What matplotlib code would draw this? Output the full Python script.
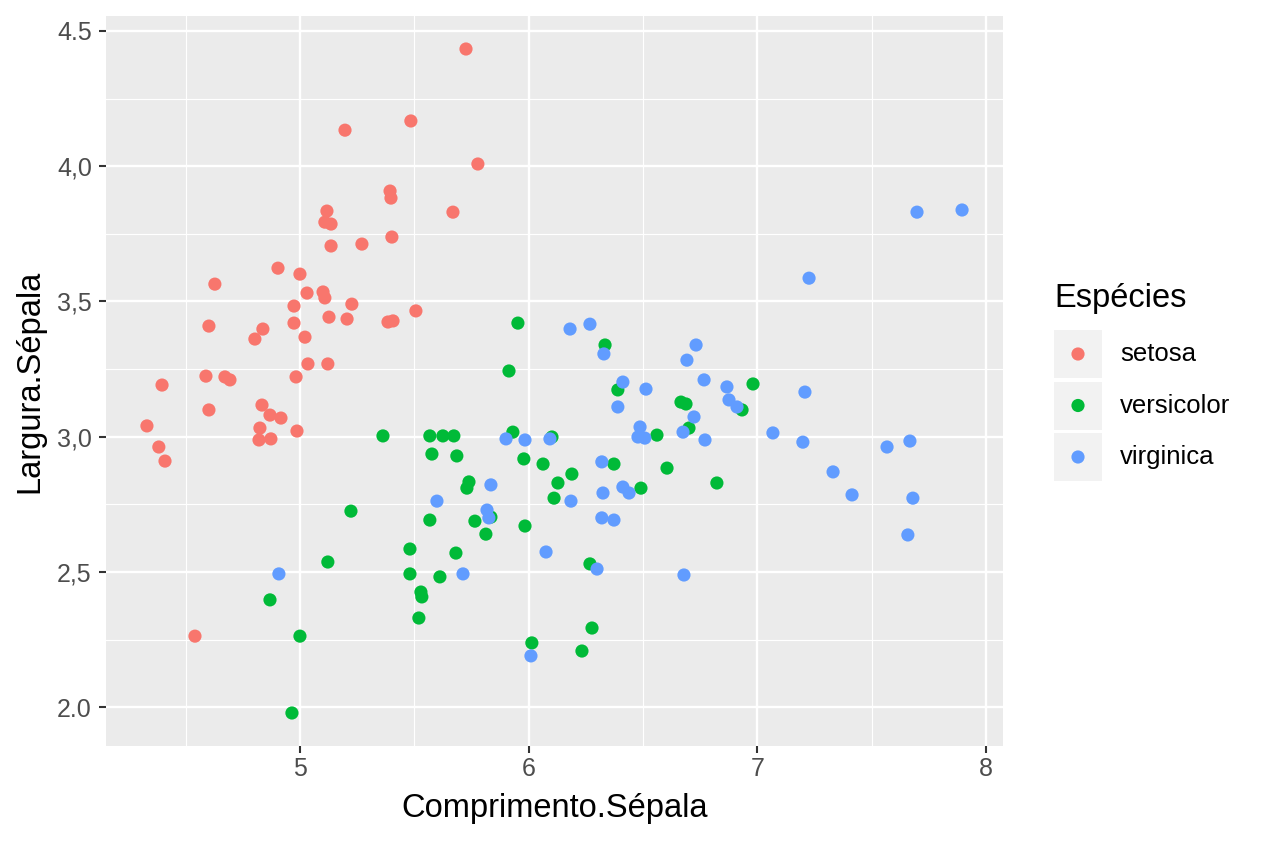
import matplotlib
matplotlib.use("Agg")
import matplotlib.pyplot as plt
from matplotlib.patches import Rectangle
from matplotlib.ticker import FixedLocator, FixedFormatter

plt.rcParams['font.family'] = ['Liberation Sans', 'DejaVu Sans']

species = ["setosa", "versicolor", "virginica"]
colors = ["#F8766D", "#00BA38", "#619CFF"]

setosa_x = [5.726, 5.485, 5.197, 5.778, 5.394, 5.398, 5.669, 5.118, 5.109, 5.136,
            5.402, 5.136, 5.271, 4.904, 5.000, 4.628, 5.031, 5.101, 5.109, 4.974,
            5.227, 5.507, 5.127, 5.206, 5.385, 5.407, 4.974, 4.602, 4.838, 5.022,
            4.803, 5.035, 5.122, 4.589, 4.672, 4.694, 4.983, 4.397, 4.834, 4.602,
            4.869, 4.917, 4.331, 4.825, 4.987, 4.821, 4.873, 4.383, 4.410, 4.541]
setosa_y = [4.433, 4.167, 4.133, 4.008, 3.908, 3.882, 3.830, 3.834, 3.793, 3.786,
            3.738, 3.705, 3.712, 3.623, 3.601, 3.564, 3.531, 3.535, 3.513, 3.483,
            3.490, 3.465, 3.442, 3.435, 3.424, 3.428, 3.420, 3.409, 3.398, 3.368,
            3.361, 3.269, 3.269, 3.224, 3.221, 3.210, 3.221, 3.191, 3.117, 3.099,
            3.080, 3.069, 3.040, 3.032, 3.021, 2.988, 2.992, 2.962, 2.910, 2.263]

versicolor_x = [5.953, 6.334, 5.914, 6.390, 6.981, 6.666, 6.688, 6.933, 6.701, 5.931,
                5.363, 5.568, 5.625, 5.673, 6.102, 6.561, 5.577, 5.686, 5.979, 6.063,
                6.373, 6.605, 6.189, 5.739, 5.730, 6.128, 6.491, 6.823, 6.111, 5.223,
                5.835, 5.568, 5.765, 5.813, 5.984, 5.481, 5.682, 6.268, 5.122, 5.481,
                5.612, 5.529, 5.533, 4.869, 5.520, 6.277, 5.000, 6.014, 6.233, 4.965]
versicolor_y = [3.420, 3.339, 3.243, 3.173, 3.195, 3.128, 3.121, 3.099, 3.032, 3.017,
                3.003, 3.003, 3.003, 3.003, 2.999, 3.006, 2.936, 2.929, 2.918, 2.899,
                2.899, 2.884, 2.862, 2.833, 2.810, 2.829, 2.810, 2.829, 2.773, 2.725,
                2.703, 2.692, 2.688, 2.640, 2.670, 2.585, 2.570, 2.530, 2.537, 2.493,
                2.482, 2.426, 2.408, 2.397, 2.330, 2.293, 2.263, 2.238, 2.208, 1.979]

virginica_x = [6.181, 6.268, 6.329, 6.412, 6.513, 6.390, 6.732, 6.692, 6.767, 6.867,
               6.876, 6.911, 6.723, 6.487, 6.478, 6.508, 6.675, 6.771, 7.068, 7.199,
               7.208, 7.226, 7.698, 7.895, 7.567, 7.667, 7.331, 7.414, 7.680, 7.658,
               6.320, 6.325, 6.412, 6.439, 6.320, 6.373, 5.901, 5.984, 6.093, 5.835,
               5.599, 6.185, 5.818, 5.826, 6.076, 6.299, 5.713, 6.679, 4.908, 6.010]
virginica_y = [3.398, 3.416, 3.306, 3.202, 3.176, 3.110, 3.339, 3.283, 3.210, 3.184,
               3.136, 3.110, 3.073, 3.036, 2.999, 2.995, 3.017, 2.988, 3.014, 2.980,
               3.165, 3.586, 3.830, 3.838, 2.962, 2.984, 2.870, 2.785, 2.773, 2.637,
               2.907, 2.792, 2.814, 2.792, 2.700, 2.692, 2.992, 2.988, 2.992, 2.822,
               2.762, 2.762, 2.729, 2.700, 2.574, 2.511, 2.493, 2.489, 2.493, 2.190]

x_ticks = [5, 6, 7, 8]
x_ticklabels = ["5", "6", "7", "8"]
y_ticks = [2.0, 2.5, 3.0, 3.5, 4.0, 4.5]
y_ticklabels = ["2.0", "2,5", "3,0", "3,5", "4,0", "4.5"]
x_minor = [4.5, 5.5, 6.5, 7.5]
y_minor = [2.25, 2.75, 3.25, 3.75, 4.25]

xs = [setosa_x, versicolor_x, virginica_x]
ys = [setosa_y, versicolor_y, virginica_y]

W, H = 1264, 843
fig = plt.figure(figsize=(W / 100, H / 100), dpi=100)
ax = fig.add_axes([106 / W, 1 - 746 / H, (1003 - 106) / W, (746 - 16) / H])
ax.set_facecolor("#EBEBEB")
for s in ax.spines.values():
    s.set_visible(False)

ax.set_xlim(4.152, 8.074)
ax.set_ylim(1.857, 4.555)

ax.xaxis.set_major_locator(FixedLocator(x_ticks))
ax.xaxis.set_major_formatter(FixedFormatter(x_ticklabels))
ax.yaxis.set_major_locator(FixedLocator(y_ticks))
ax.yaxis.set_major_formatter(FixedFormatter(y_ticklabels))
ax.xaxis.set_minor_locator(FixedLocator(x_minor))
ax.yaxis.set_minor_locator(FixedLocator(y_minor))

ax.grid(which="major", color="white", linewidth=1.7)
ax.grid(which="minor", color="white", linewidth=0.85)
ax.set_axisbelow(True)
ax.tick_params(which="major", length=5.2, width=1.5, color="#333333",
               labelsize=18, labelcolor="#4D4D4D")
ax.tick_params(axis="x", which="major", pad=3)
ax.tick_params(axis="y", which="major", pad=5)
ax.tick_params(which="minor", length=0)

for sx, sy, c in zip(xs, ys, colors):
    ax.scatter(sx, sy, s=90, color=c, edgecolors="none", zorder=3)

ax.set_xlabel("Comprimento.Sépala", fontsize=23.5, color="black", va="center")
ax.set_ylabel("Largura.Sépala", fontsize=23.5, color="black", va="center")
ax.xaxis.set_label_coords(0.5, (746 - 808) / 730)
ax.yaxis.set_label_coords((30 - 106) / 897, 0.5)

# legend
fig.text(1054 / W, 1 - 298 / H, "Espécies", fontsize=23.5, color="black",
         ha="left", va="center")
lax = fig.add_axes([1054 / W, 1 - 481 / H, 48 / W, 151 / H])
lax.set_xlim(0, 1)
lax.set_ylim(0, 151)
lax.axis("off")
for i, (name, c) in enumerate(zip(species, colors)):
    top = 151 - i * 51.5
    lax.add_patch(Rectangle((0, top - 48), 1, 48, facecolor="#F2F2F2",
                            edgecolor="none"))
    lax.scatter([0.5], [top - 24], s=90, color=c, edgecolors="none")
    fig.text(1120 / W, 1 - (330 + 24 + i * 51.5) / H, name, fontsize=18.5,
             color="black", ha="left", va="center")

fig.savefig("out.png", dpi=100)
